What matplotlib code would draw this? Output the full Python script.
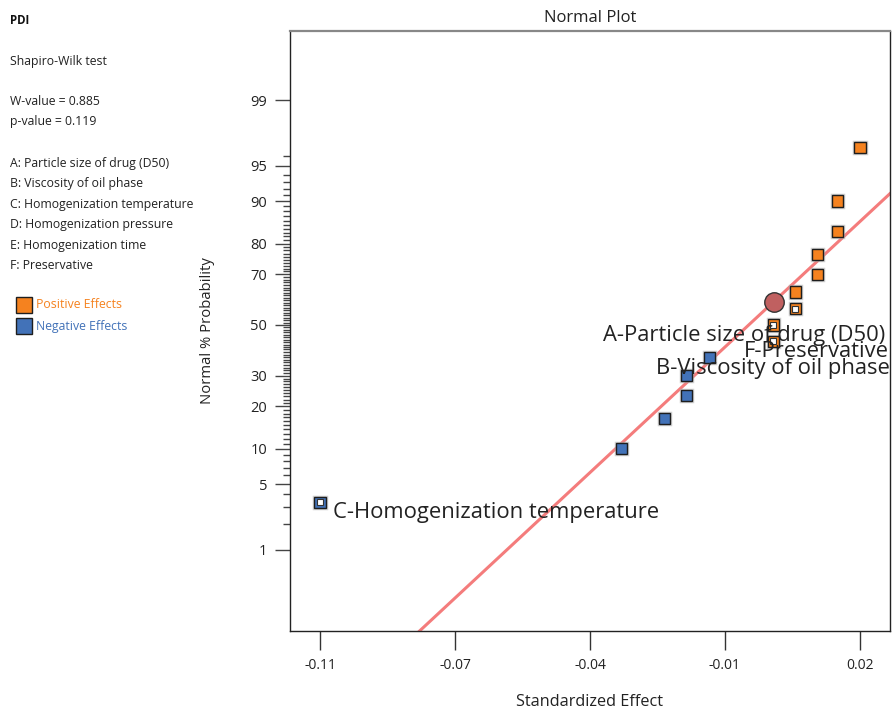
import matplotlib
matplotlib.use("Agg")
import matplotlib.pyplot as plt
import matplotlib.patheffects as pe
from matplotlib.patches import Rectangle
from statistics import NormalDist

plt.rcParams['font.family'] = ['Open Sans', 'DejaVu Sans']

# --- data ---
neg_effect = [-0.1055, -0.0373, -0.0276, -0.0226, -0.0226, -0.0176]
neg_prob = [3.33, 10.0, 16.67, 23.33, 30.0, 36.67]
pos_effect = [-0.0031, -0.0031, 0.0019, 0.0019, 0.0068, 0.0068, 0.0115, 0.0115, 0.0165]
pos_prob = [43.33, 50.0, 56.67, 63.33, 70.0, 76.67, 83.33, 90.0, 96.67]

# labelled terms (drawn with white centre)
term_names = ['C-Homogenization temperature', 'B-Viscosity of oil phase',
              'A-Particle size of drug (D50)', 'F-Preservative']
term_effect = [-0.1055, -0.0031, -0.0031, 0.0019]
term_prob = [3.33, 43.33, 50.0, 56.67]
term_offset = [(13, -10), (117, -27), (112, -11), (94, -43)]   # pixels
term_ha = ['left', 'right', 'right', 'right']

center_effect = -0.0030
center_prob = 59.5
line_sigma = 0.0235

xtick_vals = [-0.1055, -0.075, -0.0445, -0.014, 0.0165]
xtick_labels = ['-0.11', '-0.07', '-0.04', '-0.01', '0.02']
ytick_pcts = [1, 5, 10, 20, 30, 50, 70, 80, 90, 95, 99]

factor_lines = ['A: Particle size of drug (D50)', 'B: Viscosity of oil phase',
                'C: Homogenization temperature', 'D: Homogenization pressure',
                'E: Homogenization time', 'F: Preservative']

ORANGE = '#F5821F'
BLUE = '#4272B8'
EDGE = '#1e1e1e'

nd = NormalDist()
z = lambda p: nd.inv_cdf(p / 100.0)

W, H = 892, 710
fig = plt.figure(figsize=(W / 100, H / 100), dpi=100)
ax = fig.add_axes([290 / W, (H - 630.7) / H, 600 / W, 600 / H])

xlim = (-0.11228, 0.02328)
ylim = (-3.161, 3.043)

# reference line through the centre point
lx = [xlim[0] - 0.01, xlim[1] + 0.01]
ly = [z(center_prob) + (v - center_effect) / line_sigma for v in lx]
ax.plot(lx, ly, color='#F47C7C', lw=2.2, zorder=2, solid_capstyle='butt')

shadow = [pe.Stroke(linewidth=2.5, foreground='#b0b0b0', alpha=0.6), pe.Normal()]
ax.plot(neg_effect, [z(p) for p in neg_prob], 's', color=BLUE, mec=EDGE,
        ms=8, mew=1, zorder=3, path_effects=shadow)
ax.plot(pos_effect, [z(p) for p in pos_prob], 's', color=ORANGE, mec=EDGE,
        ms=8, mew=1, zorder=3, path_effects=shadow)
ax.plot(term_effect, [z(p) for p in term_prob], 's', color='white', mec='#333333',
        ms=5, mew=0.8, zorder=4)

ax.plot([center_effect], [z(center_prob)], 'o', color='#C06060', mec='#333333',
        ms=14, mew=1, zorder=5)

for name, xe, pr, off, ha in zip(term_names, term_effect, term_prob, term_offset, term_ha):
    ax.annotate(name, xy=(xe, z(pr)), xytext=off, textcoords='offset pixels',
                ha=ha, va='center', fontsize=15.8, color='#222222', zorder=6,
                annotation_clip=False, clip_on=True)

ax.set_xlim(*xlim)
ax.set_ylim(*ylim)
ax.set_xticks(xtick_vals)
ax.set_xticklabels(xtick_labels)
ax.set_yticks([z(p) for p in ytick_pcts])
ax.set_yticklabels([str(p) for p in ytick_pcts])
ax.set_yticks([z(p) for p in range(2, 97) if p not in ytick_pcts], minor=True)

ax.tick_params(axis='x', direction='out', length=13.5, width=1, color='#333333',
               labelsize=10, pad=6, labelcolor='#222222')
ax.tick_params(axis='y', which='major', direction='out', length=10.5, width=1,
               color='#444444', labelsize=10.5, pad=6, labelcolor='#222222')
ax.tick_params(axis='y', which='minor', direction='out', length=5.3, width=1,
               color='#444444')

for s in ['left', 'bottom', 'right']:
    ax.spines[s].set_color('#222222')
    ax.spines[s].set_linewidth(1)
ax.spines['top'].set_color('#888888')
ax.spines['top'].set_linewidth(1.6)

ax.set_title('Normal Plot', fontsize=12, color='#222222', pad=6.5)
ax.set_xlabel('Standardized Effect', fontsize=11.7, color='#222222', labelpad=15.5)
ax.set_ylabel('Normal % Probability', fontsize=10.7, color='#222222', labelpad=25)

# --- left information panel ---
def ftext(x, y, s, **kw):
    fig.text(x / W, 1 - y / H, s, va='center', ha='left', **kw)

ftext(10, 20, 'PDI', fontsize=8.3, fontweight='bold', color='#111111')
ftext(10, 61, 'Shapiro-Wilk test', fontsize=8.8, color='#222222')
ftext(10, 101.7, 'W-value = 0.885', fontsize=8.8, color='#222222')
ftext(10, 121.7, 'p-value = 0.119', fontsize=8.8, color='#222222')
for i, line in enumerate(factor_lines):
    ftext(10, 163.3 + i * 20.5, line, fontsize=8.8, color='#222222')

for yy, col, lab in [(305, ORANGE, 'Positive Effects'), (326, BLUE, 'Negative Effects')]:
    fig.add_artist(Rectangle(((16) / W, 1 - (yy + 8) / H), 16 / W, 16 / H,
                             transform=fig.transFigure, facecolor=col,
                             edgecolor=EDGE, lw=1))
    ftext(36, yy, lab, fontsize=8.8, color=col)

fig.savefig('out.png', dpi=100)
